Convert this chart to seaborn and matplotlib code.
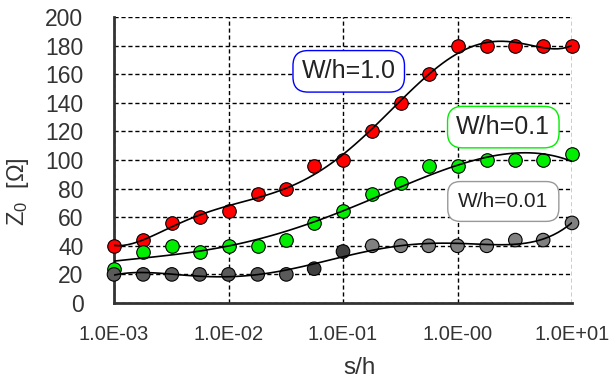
import matplotlib
matplotlib.use("Agg")
import matplotlib.pyplot as plt
import numpy as np
import pandas as pd
import seaborn as sns

# s/h values (quarter-decade steps) and Z0 readings for each W/h
s_h = [0.001, 0.0018, 0.0032, 0.0056, 0.01, 0.018, 0.032, 0.056, 0.1,
       0.18, 0.32, 0.56, 1.0, 1.8, 3.2, 5.6, 10.0]
z0_w10 = [40, 44, 56, 60, 64, 76, 80, 96, 100, 120, 140, 160, 180, 180, 180, 180, 180]
z0_w01 = [24, 36, 40, 36, 40, 40, 44, 56, 64, 76, 84, 96, 96, 100, 100, 100, 104]
z0_w001 = [20, 20, 20, 20, 20, 20, 20, 24, 36, 40, 40, 40, 40, 40, 44, 44, 56]

x_ticks = [-3, -2, -1, 0, 1]
x_ticklabels = ["1.0E-03", "1.0E-02", "1.0E-01", "1.0E-00", "1.0E+01"]
y_ticks = list(range(0, 201, 20))

sns.set_theme(style="white")
plt.rcParams['font.family'] = ['Liberation Sans', 'DejaVu Sans']
plt.rcParams['mathtext.default'] = 'regular'

df = pd.DataFrame({'logsh': np.log10(s_h), 'w10': z0_w10, 'w01': z0_w01, 'w001': z0_w001})

fig = plt.figure(figsize=(6.09, 3.84), dpi=100)
ax = fig.add_axes([114 / 609, 81 / 384, 458 / 609, 286 / 384])

gray_shade = ["#5a5a5a"] * 7 + ["#404040"] * 2 + ["#808080"] * 8

series = [('w10', 6, 'red'), ('w01', 4, '#00ee00'), ('w001', 5, None)]
for col, order, color in series:
    sns.regplot(data=df, x='logsh', y=col, order=order, ci=None, scatter=False, ax=ax,
                line_kws=dict(color='black', lw=1.2, zorder=5))
    if color is None:
        sns.scatterplot(data=df, x='logsh', y=col, hue=np.arange(len(df)), palette=gray_shade,
                        legend=False, s=95, edgecolor='black', linewidth=0.8, zorder=4,
                        clip_on=False, ax=ax)
    else:
        sns.scatterplot(data=df, x='logsh', y=col, color=color, s=95, edgecolor='black',
                        linewidth=0.8, zorder=4, clip_on=False, ax=ax)

ax.set_xlim(-3, 1)
ax.set_ylim(0, 200)
ax.set_xticks(x_ticks)
ax.set_xticklabels(x_ticklabels, fontsize=14.5, color='#333333')
ax.set_yticks(y_ticks)
ax.set_yticklabels([str(v) for v in y_ticks], fontsize=16.5, color='#333333')
ax.tick_params(axis='x', length=0, pad=16)
ax.tick_params(axis='y', length=0, pad=22)
ax.set_xlabel('')
ax.set_ylabel('')
ax.grid(True, color='black', linestyle=(0, (3, 2)), lw=1)
ax.set_axisbelow(True)
for side in ['top', 'right']:
    ax.spines[side].set_visible(False)
for side in ['left', 'bottom']:
    ax.spines[side].set_color('#333333')
    ax.spines[side].set_linewidth(2)
    ax.spines[side].set_zorder(3)

ax.text(-0.95, 162, 'W/h=1.0', fontsize=18, ha='center', va='center', color='#222222', zorder=7,
        bbox=dict(boxstyle='round,pad=0.35,rounding_size=0.6', fc='white', ec='blue', lw=1))
ax.text(0.40, 123, 'W/h=0.1', fontsize=18, ha='center', va='center', color='#222222', zorder=7,
        bbox=dict(boxstyle='round,pad=0.35,rounding_size=0.6', fc='white', ec='#00ee00', lw=1))
ax.text(0.40, 71, 'W/h=0.01', fontsize=15, ha='center', va='center', color='#222222', zorder=7,
        bbox=dict(boxstyle='round,pad=0.5,rounding_size=0.6', fc='white', ec='#999999', lw=1))

fig.text(360 / 609, 16 / 384, 's/h', fontsize=17.5, ha='center', va='center', color='#333333')
fig.text(18 / 609, 192 / 384, '$Z_0$  [Ω]', fontsize=17, rotation=90, ha='center', va='center',
         color='#333333')

fig.savefig('out.png', dpi=100)
